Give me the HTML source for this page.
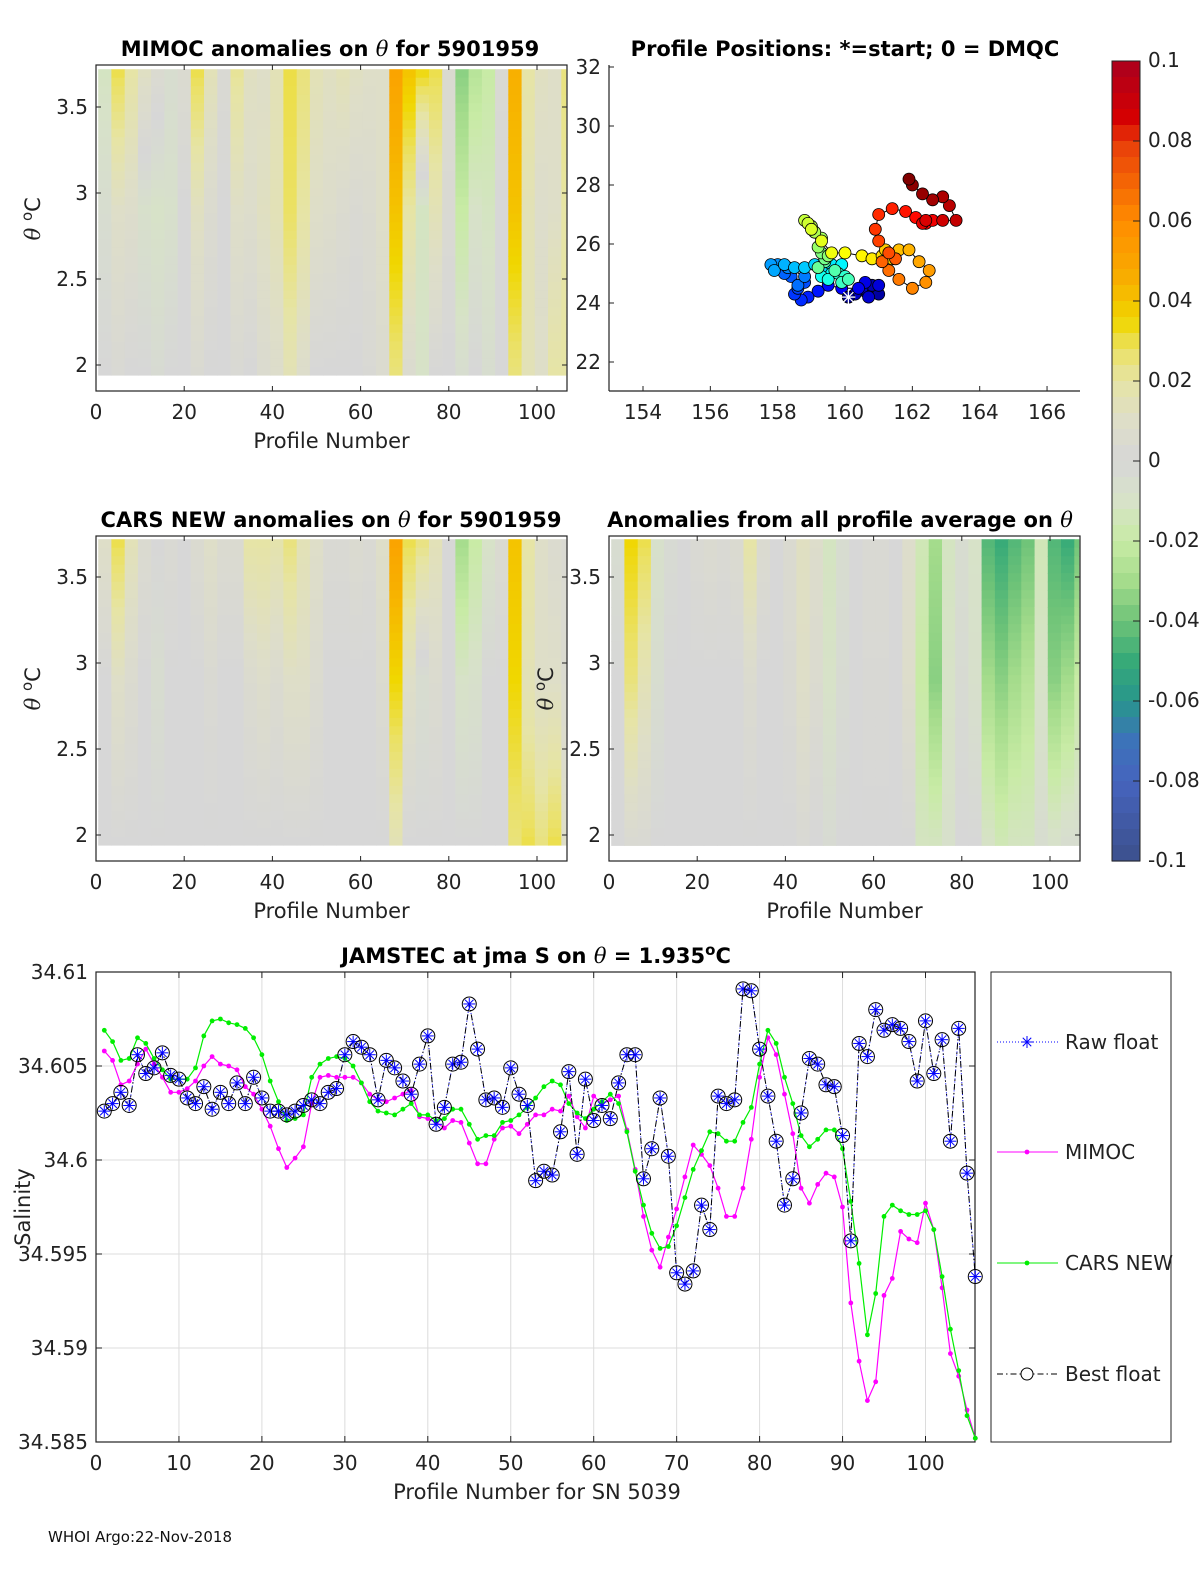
<!DOCTYPE html>
<html><head><meta charset="utf-8">
<style>
html,body{margin:0;padding:0;background:#fff;}
svg{display:block;font-family:"DejaVu Sans","Liberation Sans",sans-serif;}
.t{font-size:20px;fill:#222;}
.tt{font-size:21px;font-weight:bold;fill:#000;}
.al{font-size:21px;fill:#222;}
</style></head>
<body>
<svg id="fig" width="1200" height="1575" viewBox="0 0 1200 1575" xmlns="http://www.w3.org/2000/svg">
<rect width="1200" height="1575" fill="#fff"/>
<g id="p1"></g>
<g id="p2"></g>
<g id="cb"></g>
<g id="p3"></g>
<g id="p4"></g>
<g id="p5"></g>
<text x="330" y="56" text-anchor="middle" class="tt">MIMOC anomalies on <tspan font-style="italic" font-weight="normal" font-family="DejaVu Serif">θ</tspan>  for 5901959</text>
<text x="845" y="56" text-anchor="middle" class="tt">Profile Positions: *=start; 0 = DMQC</text>
<text x="331" y="527" text-anchor="middle" class="tt">CARS NEW anomalies on <tspan font-style="italic" font-weight="normal" font-family="DejaVu Serif">θ</tspan> for 5901959</text>
<text x="840" y="527" text-anchor="middle" class="tt">Anomalies from all profile average on <tspan font-style="italic" font-weight="normal" font-family="DejaVu Serif">θ</tspan></text>
<text x="536" y="963" text-anchor="middle" class="tt">JAMSTEC at jma S on <tspan font-style="italic" font-weight="normal" font-family="DejaVu Serif">θ</tspan> = 1.935<tspan dy="-8" font-size="15">o</tspan><tspan dy="8">C</tspan></text>
<text x="48" y="1542" font-size="15" fill="#111">WHOI Argo:22-Nov-2018</text>
</svg>
<script>
// ---------- Heatmap data (per 3-profile bin; top/mid/bottom theta level) ----------
const binSize = 3;
const levelTheta = [3.72, 2.9, 1.94];
const p1Top = [-0.012,0.03,0.02,0.012,0.005,-0.005,0.005,0.03,0.015,0.003,0.022,0.012,0.01,0.015,0.03,0.025,0.015,0.012,0.015,0.012,0.01,0.01,0.05,0.04,0.035,0.03,0.005,-0.035,-0.025,-0.02,0.003,0.045,0.02,0.012,0.01,0.025];
const p1Mid = [-0.005,0.01,0.008,-0.008,-0.01,-0.008,0,0.012,0.005,0,0.01,0.008,0.012,0.015,0.028,0.02,0.01,0.008,0.005,0.003,0.005,0.01,0.04,0.02,-0.012,0.015,0.003,-0.02,-0.01,-0.012,0,0.04,0.015,0.008,0.01,0.02];
const p1Bot = [0,0.002,0,0,-0.003,0,0,0.003,0,0,0.002,0,0.005,0.008,0.015,0.008,0,0,0,0,0.002,0.005,0.025,0.005,-0.01,0,0,-0.005,0,-0.005,0,0.025,0.015,0.01,0.02,0.02];
const p3Top = [0.01,0.03,0.015,0.005,0,0.003,0,0.005,0.01,0.005,0.005,0.02,0.02,0.018,0.025,0.015,0.01,0.003,0.003,0.005,0.003,0.01,0.05,0.03,0.025,0.015,0,-0.03,-0.02,-0.01,0.005,0.04,0.02,0.01,0.005,0.003];
const p3Mid = [0,0.01,0.005,0,-0.005,0,0,0,0.003,0,0,0.005,0.008,0.005,0.01,0.01,0.005,0,0,0,0,0.005,0.035,0.01,-0.005,0.005,0,-0.01,-0.008,0,0,0.035,0.015,0.01,0.01,0.005];
const p3Bot = [0,0,0,0,0,0,0,0,0,0,0,0,0,0,0,0,0,0,0,0,0,0,0.015,0,0,0,0,0,0,0,0,0.025,0.03,0.025,0.03,0.01];
const p4Top = [-0.005,0.035,0.03,-0.008,-0.003,0,0.003,0.005,0.003,0.005,0.02,0.005,0,0.005,0.012,0.008,-0.012,-0.005,0,0.003,0.003,0,0.008,-0.015,-0.03,-0.012,-0.005,-0.01,-0.045,-0.05,-0.045,-0.04,-0.015,-0.045,-0.05,-0.04];
const p4Mid = [0,0.025,0.015,-0.005,0,0,0,0,0,0,0.005,0,0,0.003,0.01,0.005,-0.01,-0.003,0,0.002,0.002,0,0.008,-0.02,-0.035,-0.01,-0.003,-0.008,-0.03,-0.035,-0.03,-0.025,-0.01,-0.035,-0.03,-0.02];
const p4Bot = [0,0.003,0.002,0,0,0,0,0,0,0,0,0,0,0,0.002,0,-0.003,0,0,0,0,0,0,-0.012,-0.012,-0.008,0,0,-0.01,-0.015,-0.012,-0.012,-0.005,-0.008,-0.005,-0.005];

// ---------- Float positions ----------
const posLon = [160.1,160.6,160.9,161.0,160.8,160.5,160.3,160.7,161.0,160.6,160.4,159.9,159.5,159.2,158.9,158.7,158.5,158.6,158.8,158.4,158.2,158.6,158.8,158.3,158.0,157.8,157.9,158.2,158.5,158.8,159.1,159.3,159.6,159.9,159.6,159.3,159.5,159.8,160.0,159.9,160.1,159.7,159.4,159.2,159.4,159.3,159.5,159.2,159.3,159.1,159.0,158.8,158.9,159.0,159.3,159.6,160.0,160.5,160.8,161.1,161.4,161.2,161.6,161.9,162.2,162.5,162.4,162.0,161.6,161.3,161.1,161.5,161.3,161.0,160.9,161.0,161.4,161.8,162.1,162.4,162.6,162.3,162.4,162.9,163.3,163.1,162.9,162.6,162.3,162.0,161.9];
const posLat = [24.2,24.4,24.5,24.3,24.6,24.5,24.3,24.2,24.6,24.7,24.5,24.5,24.6,24.4,24.2,24.1,24.3,24.5,24.7,24.9,25.0,24.6,24.9,25.2,25.3,25.3,25.1,25.3,25.2,25.2,25.3,25.1,25.3,25.3,25.0,24.9,24.8,25.0,24.9,24.7,24.8,25.1,25.4,25.2,25.5,25.7,25.6,25.9,26.2,26.4,26.6,26.8,26.7,26.5,26.1,25.7,25.7,25.6,25.5,25.6,25.5,25.8,25.8,25.8,25.4,25.1,24.7,24.5,24.8,25.1,25.4,25.5,25.7,26.1,26.5,27.0,27.2,27.1,26.9,26.7,26.8,26.7,26.8,26.8,26.8,27.3,27.6,27.5,27.7,28.0,28.2];

// ---------- Salinity series (profiles 1..106) ----------
const floatS = [34.6026,34.6030,34.6036,34.6029,34.6056,34.6046,34.6049,34.6057,34.6045,34.6043,34.6033,34.6030,34.6039,34.6027,34.6036,34.6030,34.6041,34.6030,34.6044,34.6033,34.6026,34.6026,34.6024,34.6026,34.6029,34.6032,34.6030,34.6036,34.6038,34.6056,34.6063,34.6060,34.6056,34.6032,34.6053,34.6049,34.6042,34.6035,34.6051,34.6066,34.6019,34.6028,34.6051,34.6052,34.6083,34.6059,34.6032,34.6033,34.6028,34.6049,34.6035,34.6029,34.5989,34.5994,34.5992,34.6015,34.6047,34.6003,34.6043,34.6021,34.6029,34.6022,34.6041,34.6056,34.6056,34.5990,34.6006,34.6033,34.6002,34.5940,34.5934,34.5941,34.5976,34.5963,34.6034,34.6030,34.6032,34.6091,34.6090,34.6059,34.6034,34.6010,34.5976,34.5990,34.6025,34.6054,34.6051,34.6040,34.6039,34.6013,34.5957,34.6062,34.6055,34.6080,34.6069,34.6072,34.6070,34.6063,34.6042,34.6074,34.6046,34.6064,34.6010,34.6070,34.5993,34.5938];
const mimocS = [34.6058,34.6053,34.6040,34.6042,34.6051,34.6059,34.6051,34.6044,34.6036,34.6036,34.6038,34.6042,34.6050,34.6055,34.6051,34.6050,34.6048,34.6039,34.6035,34.6027,34.6018,34.6006,34.5996,34.6001,34.6007,34.6030,34.6044,34.6045,34.6044,34.6044,34.6044,34.6041,34.6035,34.6032,34.6031,34.6033,34.6035,34.6037,34.6023,34.6022,34.6020,34.6017,34.6021,34.6020,34.6009,34.5998,34.5998,34.6011,34.6017,34.6018,34.6014,34.6019,34.6024,34.6024,34.6027,34.6026,34.6034,34.6023,34.6017,34.6034,34.6030,34.6032,34.6034,34.6016,34.5995,34.5970,34.5952,34.5943,34.5959,34.5974,34.5991,34.6008,34.6003,34.5997,34.5985,34.5970,34.5970,34.5985,34.6011,34.6044,34.6065,34.6056,34.6035,34.6014,34.5985,34.5977,34.5987,34.5993,34.5991,34.5975,34.5924,34.5893,34.5872,34.5882,34.5928,34.5937,34.5962,34.5958,34.5956,34.5977,34.5963,34.5932,34.5897,34.5885,34.5867,34.5852];
const carsS = [34.6069,34.6063,34.6053,34.6054,34.6065,34.6062,34.6054,34.6048,34.6043,34.6043,34.6043,34.6049,34.6066,34.6074,34.6075,34.6073,34.6072,34.6070,34.6065,34.6056,34.6042,34.6031,34.6021,34.6022,34.6024,34.6044,34.6051,34.6054,34.6055,34.6054,34.6050,34.6041,34.6031,34.6026,34.6025,34.6024,34.6027,34.6030,34.6024,34.6024,34.6021,34.6022,34.6027,34.6027,34.6019,34.6011,34.6013,34.6013,34.6020,34.6021,34.6024,34.6028,34.6033,34.6039,34.6042,34.6040,34.6030,34.6025,34.6022,34.6027,34.6031,34.6035,34.6030,34.6015,34.5994,34.5976,34.5961,34.5953,34.5954,34.5965,34.5980,34.5995,34.6005,34.6015,34.6014,34.6010,34.6010,34.6020,34.6028,34.6051,34.6069,34.6062,34.6044,34.6030,34.6013,34.6007,34.6011,34.6016,34.6016,34.6006,34.5978,34.5945,34.5907,34.5929,34.5970,34.5976,34.5973,34.5971,34.5971,34.5973,34.5963,34.5938,34.5910,34.5888,34.5864,34.5852];
const xTicksBottom = [0,10,20,30,40,50,60,70,80,90,100];
const yTicksBottom = [34.585,34.59,34.595,34.6,34.605,34.61];
const yTickLabelsBottom = ["34.585","34.59","34.595","34.6","34.605","34.61"];
const legendLabels = ["Raw float","MIMOC","CARS NEW","Best float"];
const cbTicks = [0.1,0.08,0.06,0.04,0.02,0,-0.02,-0.04,-0.06,-0.08,-0.1];

const NS="http://www.w3.org/2000/svg";
function mk(parent,tag,attrs){const e=document.createElementNS(NS,tag);for(const k in attrs)e.setAttribute(k,attrs[k]);parent.appendChild(e);return e;}
function txt(parent,x,y,s,cls,anchor){const e=mk(parent,'text',{x:x,y:y,class:cls,'text-anchor':anchor||'middle'});e.textContent=s;return e;}

const cmV=[-0.1,-0.08,-0.07,-0.06,-0.05,-0.04,-0.03,-0.02,-0.01,0,0.01,0.02,0.028,0.035,0.045,0.06,0.08,0.085,0.1];
const cmC=[[60,80,140],[70,100,190],[60,115,185],[40,150,140],[55,170,120],[110,195,120],[165,220,140],[200,235,165],[215,226,200],[215,215,215],[222,222,200],[230,228,165],[235,225,100],[240,215,0],[248,175,0],[255,140,0],[232,60,10],[215,0,0],[170,0,30]];
function cmap(v){v=Math.max(-0.1,Math.min(0.1,v));for(let i=0;i<cmV.length-1;i++){if(v<=cmV[i+1]){const t=(v-cmV[i])/(cmV[i+1]-cmV[i]);const a=cmC[i],b=cmC[i+1];return 'rgb('+a.map((c,j)=>Math.round(c+(b[j]-c)*t)).join(',')+')';}}return 'rgb(170,0,30)';}

function heatPanel(g,x0,y0,w,h,pxPerProf,yOf,top,mid,bot,yLo,yHi){
  const hm=mk(g,'g',{});
  
  
  const rows=36;
  for(let b=0;b<top.length;b++){
    const p0=b*binSize+0.5, p1=Math.min(106.5,(b+1)*binSize+0.5);
    const xa=x0+p0*pxPerProf, xb=x0+p1*pxPerProf;
    for(let r=0;r<rows;r++){
      const th=levelTheta[0]-(levelTheta[0]-levelTheta[2])*(r+0.5)/rows;
      let v;
      if(th>=levelTheta[1]){const t=(levelTheta[0]-th)/(levelTheta[0]-levelTheta[1]);v=top[b]+(mid[b]-top[b])*t;}
      else{const t=(levelTheta[1]-th)/(levelTheta[1]-levelTheta[2]);v=mid[b]+(bot[b]-mid[b])*t;}
      const ya=Math.max(yLo,yOf(levelTheta[0]-(levelTheta[0]-levelTheta[2])*r/rows));
      const yb=Math.min(yHi,yOf(levelTheta[0]-(levelTheta[0]-levelTheta[2])*(r+1)/rows));
      const c=mk(hm,'rect',{x:xa.toFixed(1),y:ya.toFixed(1),width:(xb-xa+0.6).toFixed(1),height:(yb-ya+0.6).toFixed(1),fill:cmap(v)});
      
      
    }
  }
  mk(g,'rect',{x:x0,y:y0,width:w,height:h,fill:'none',stroke:'#222','stroke-width':1.2});
}
function thetaAxes(g,x0,y0,w,h,yOf,pxPerProf,labelLeft,labelSide){
  [2,2.5,3,3.5].forEach(t=>{const y=yOf(t);
    mk(g,'line',{x1:x0,x2:x0+5,y1:y,y2:y,stroke:'#222'});mk(g,'line',{x1:x0+w,x2:x0+w-5,y1:y,y2:y,stroke:'#222'});
    const l=txt(g,labelLeft,y+7,String(t),'t','end');});
  [0,20,40,60,80,100].forEach(p=>{const x=x0+p*pxPerProf;
    mk(g,'line',{x1:x,x2:x,y1:y0+h,y2:y0+h-5,stroke:'#222'});mk(g,'line',{x1:x,x2:x,y1:y0,y2:y0+5,stroke:'#222'});
    const l=txt(g,x,y0+h+28,String(p),'t');});
  const xl=txt(g,x0+w/2,y0+h+57,'Profile Number','al');
  const yl=mk(g,'text',{x:0,y:0,class:'al','text-anchor':'middle',transform:'translate('+labelSide+','+(yOf(2.85))+') rotate(-90)'});
  yl.innerHTML='<tspan font-family="DejaVu Serif" font-style="italic">θ</tspan> <tspan dy="-8" font-size="15">o</tspan><tspan dy="8">C</tspan>';
  
}
(function(){const g=document.getElementById('p1');const yOf=t=>107+(3.5-t)*172;
  heatPanel(g,96,65,471,326,4.41,yOf,p1Top,p1Mid,p1Bot,65,375);
  thetaAxes(g,96,65,471,326,yOf,4.41,88,40);})();
(function(){const g=document.getElementById('p3');const yOf=t=>577+(3.5-t)*172;
  heatPanel(g,96,536,471,325,4.41,yOf,p3Top,p3Mid,p3Bot,536,845);
  thetaAxes(g,96,536,471,325,yOf,4.41,88,40);})();
(function(){const g=document.getElementById('p4');const yOf=t=>577+(3.5-t)*172;
  heatPanel(g,609,536,471,325,4.41,yOf,p4Top,p4Mid,p4Bot,536,861);
  thetaAxes(g,609,536,471,325,yOf,4.41,601,553);})();
(function(){const g=document.getElementById('p2');
  const xOf=lon=>643+(lon-154)*33.67, yOf=lat=>67+(32-lat)*29.5;
  mk(g,'line',{x1:609,x2:1080,y1:391,y2:391,stroke:'#222','stroke-width':1.2});
  mk(g,'line',{x1:609,x2:609,y1:65,y2:391,stroke:'#222','stroke-width':1.2});
  for(let lon=154;lon<=166;lon+=2){const x=xOf(lon);mk(g,'line',{x1:x,x2:x,y1:391,y2:386,stroke:'#222'});const l=txt(g,x,419,String(lon),'t');}
  for(let lat=22;lat<=32;lat+=2){const y=yOf(lat);mk(g,'line',{x1:609,x2:614,y1:y,y2:y,stroke:'#222'});const l=txt(g,601,y+7,String(lat),'t','end');}
  let d='';posLon.forEach((lo,i)=>{d+=(i?'L':'M')+xOf(lo).toFixed(1)+' '+yOf(posLat[i]).toFixed(1);});
  const tr=mk(g,'path',{d:d,fill:'none',stroke:'#000','stroke-width':1});
  
  const N=posLon.length;
  function jet(t){const r=Math.max(0,Math.min(1,1.5-Math.abs(4*t-3))),gg=Math.max(0,Math.min(1,1.5-Math.abs(4*t-2))),b=Math.max(0,Math.min(1,1.5-Math.abs(4*t-1)));return 'rgb('+Math.round(r*255)+','+Math.round(gg*255)+','+Math.round(b*255)+')';}
  for(let i=1;i<N;i++){const c=mk(g,'circle',{cx:xOf(posLon[i]).toFixed(1),cy:yOf(posLat[i]).toFixed(1),r:6,fill:jet(i/(N-1)),stroke:'#000','stroke-width':0.8});
    }
  const sx=xOf(posLon[0]),sy=yOf(posLat[0]);
  const st=mk(g,'g',{});
  mk(st,'circle',{cx:sx,cy:sy,r:6,fill:'#00008f',stroke:'#000'});
  for(let a=0;a<4;a++){const an=a*Math.PI/4;mk(st,'line',{x1:sx-7*Math.cos(an),y1:sy-7*Math.sin(an),x2:sx+7*Math.cos(an),y2:sy+7*Math.sin(an),stroke:'#fff','stroke-width':1.3});}
})();
(function(){const g=document.getElementById('cb');const yOf=v=>61+(0.1-v)*4000;
  for(let i=0;i<50;i++){const v=0.1-0.004*(i+0.5);const r=mk(g,'rect',{x:1112,y:yOf(0.1-0.004*i).toFixed(1),width:28,height:16.6,fill:cmap(v)});}
  mk(g,'rect',{x:1112,y:61,width:28,height:800,fill:'none',stroke:'#222'});
  cbTicks.forEach(v=>{const y=yOf(v);mk(g,'line',{x1:1133,x2:1140,y1:y,y2:y,stroke:'#222'});const l=txt(g,1148,y+6,String(v),'t','start');l.setAttribute('font-size','17');});
})();
(function(){const g=document.getElementById('p5');
  const xOf=n=>96+n*8.295, yOf=v=>972+(34.61-v)/0.025*470;
  mk(g,'rect',{x:96,y:972,width:879,height:470,fill:'#fff'});
  xTicksBottom.forEach(n=>{const x=xOf(n);mk(g,'line',{x1:x,x2:x,y1:972,y2:1442,stroke:'#dcdcdc'});
    mk(g,'line',{x1:x,x2:x,y1:1442,y2:1436,stroke:'#222'});mk(g,'line',{x1:x,x2:x,y1:972,y2:978,stroke:'#222'});
    const l=txt(g,x,1470,String(n),'t');});
  const yl=mk(g,'text',{x:0,y:0,class:'al','text-anchor':'middle',transform:'translate(30,1207) rotate(-90)'});yl.textContent='Salinity';
  
  yTicksBottom.forEach((v,i)=>{const y=yOf(v);mk(g,'line',{x1:96,x2:975,y1:y,y2:y,stroke:'#dcdcdc'});
    mk(g,'line',{x1:96,x2:102,y1:y,y2:y,stroke:'#222'});mk(g,'line',{x1:975,x2:969,y1:y,y2:y,stroke:'#222'});
    const l=txt(g,88,y+7,yTickLabelsBottom[i],'t','end');});
  mk(g,'rect',{x:96,y:972,width:879,height:470,fill:'none',stroke:'#222','stroke-width':1.2});
  const xl=txt(g,537,1499,'Profile Number for SN 5039','al');
  function pathOf(arr){return arr.map((v,i)=>(i?'L':'M')+xOf(i+1).toFixed(1)+' '+yOf(v).toFixed(1)).join('');}
  const raw=mk(g,'path',{d:pathOf(floatS),fill:'none',stroke:'#0000ff','stroke-width':1,'stroke-dasharray':'1,2'});
  
  const ml=mk(g,'path',{d:pathOf(mimocS),fill:'none',stroke:'#ff00ff','stroke-width':1.2});
  
  mimocS.forEach((v,i)=>{const c=mk(g,'circle',{cx:xOf(i+1).toFixed(1),cy:yOf(v).toFixed(1),r:2.4,fill:'#ff00ff'});});
  const cl=mk(g,'path',{d:pathOf(carsS),fill:'none',stroke:'#00ee00','stroke-width':1.2});
  
  carsS.forEach((v,i)=>{const c=mk(g,'circle',{cx:xOf(i+1).toFixed(1),cy:yOf(v).toFixed(1),r:2.4,fill:'#00ee00'});});
  const bl=mk(g,'path',{d:pathOf(floatS),fill:'none',stroke:'#000','stroke-width':1,'stroke-dasharray':'6,3,1.5,3'});
  
  function marker(par,x,y){mk(par,'circle',{cx:x,cy:y,r:7,fill:'none',stroke:'#000','stroke-width':1});
    for(let a=0;a<4;a++){const an=a*Math.PI/4;mk(par,'line',{x1:x-6*Math.cos(an),y1:y-6*Math.sin(an),x2:x+6*Math.cos(an),y2:y+6*Math.sin(an),stroke:'#0000ff','stroke-width':1});}}
  floatS.forEach((v,i)=>{const m=mk(g,'g',{});marker(m,xOf(i+1),yOf(v));});
  const lg=mk(g,'g',{});
  mk(lg,'rect',{x:991,y:972,width:180,height:470,fill:'#fff',stroke:'#222'});
  const ly=[1042,1152,1263,1374];
  legendLabels.forEach((s,i)=>{const e=mk(lg,'g',{});
    const y=ly[i];
    if(i===0){mk(e,'line',{x1:997,x2:1058,y1:y,y2:y,stroke:'#0000ff','stroke-dasharray':'1,2'});for(let a=0;a<4;a++){const an=a*Math.PI/4;mk(e,'line',{x1:1027-6*Math.cos(an),y1:y-6*Math.sin(an),x2:1027+6*Math.cos(an),y2:y+6*Math.sin(an),stroke:'#0000ff'});}}
    if(i===1){mk(e,'line',{x1:997,x2:1058,y1:y,y2:y,stroke:'#ff00ff'});mk(e,'circle',{cx:1027,cy:y,r:2.4,fill:'#ff00ff'});}
    if(i===2){mk(e,'line',{x1:997,x2:1058,y1:y,y2:y,stroke:'#00ee00'});mk(e,'circle',{cx:1027,cy:y,r:2.4,fill:'#00ee00'});}
    if(i===3){mk(e,'line',{x1:997,x2:1058,y1:y,y2:y,stroke:'#000','stroke-dasharray':'6,3,1.5,3'});mk(e,'circle',{cx:1027,cy:y,r:6,fill:'#fff',stroke:'#000'});}
    const t=txt(e,1065,y+7,s,'t','start');});
})();
</script>
</body></html>
